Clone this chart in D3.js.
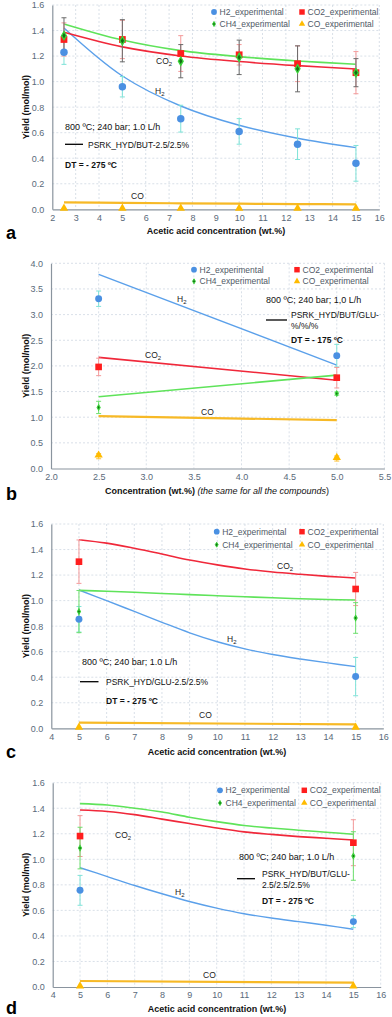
<!DOCTYPE html>
<html><head><meta charset="utf-8">
<script src="https://cdn.jsdelivr.net/npm/d3@7"></script>
<style>
body{margin:0;background:#fff;}
svg{display:block;}
text{font-family:"Liberation Sans",Arial,sans-serif;}
</style></head>
<body>
<svg id="chart" width="392" height="1017"></svg>
<script>
// ---------- Panel a data ----------
const A_x = [2.5, 5, 7.5, 10, 12.5, 15];
const A_H2 = [1.23, 0.96, 0.71, 0.61, 0.51, 0.36];
const A_H2_err = [0.095, 0.08, 0.105, 0.10, 0.12, 0.14];
const A_CO2 = [1.33, 1.33, 1.22, 1.21, 1.14, 1.07];
const A_CO2_err = [0.13, 0.15, 0.14, 0.08, 0.14, 0.165];
const A_CH4 = [1.36, 1.32, 1.16, 1.19, 1.10, 1.07];
const A_CH4_err = [0.14, 0.165, 0.13, 0.135, 0.18, 0.11];
const A_CO = [0, 0, 0, 0, 0, 0];
const A_CO_err = [0, 0, 0, 0, 0, 0];
const A_modelX = [2.5, 5, 7.5, 10, 12.5, 15];
const A_H2_model = [1.42, 1.044, 0.809, 0.658, 0.556, 0.483];
const A_CO2_model = [1.386, 1.272, 1.201, 1.157, 1.125, 1.099];
const A_CH4_model = [1.452, 1.326, 1.243, 1.196, 1.162, 1.136];
const A_CO_model = [0.055, 0.05, 0.047, 0.044, 0.041, 0.039];
const A_xTicks = [2,3,4,5,6,7,8,9,10,11,12,13,14,15,16];
const A_yTicks = [0,0.2,0.4,0.6,0.8,1.0,1.2,1.4,1.6];

// ---------- Panel b data ----------
const B_x = [2.5, 5.0];
const B_H2 = [3.31, 2.20];
const B_H2_err = [0.15, 0.22];
const B_CO2 = [1.98, 1.77];
const B_CO2_err = [0.17, 0.20];
const B_CH4 = [1.19, 1.46];
const B_CH4_err = [0.12, 0.03];
const B_CO = [0.24, 0.195];
const B_CO_err = [0.05, 0.05];
const B_modelX = [2.5, 5.0];
const B_H2_model = [3.785, 2.016];
const B_CO2_model = [2.166, 1.72];
const B_CH4_model = [1.40, 1.82];
const B_CO_model = [1.02, 0.943];
const B_xTicks = [2.0,2.5,3.0,3.5,4.0,4.5,5.0,5.5];
const B_yTicks = [0,0.5,1.0,1.5,2.0,2.5,3.0,3.5,4.0];

// ---------- Panel c data ----------
const C_x = [5, 15];
const C_H2 = [0.854, 0.405];
const C_H2_err = [0.10, 0.15];
const C_CO2 = [1.305, 1.091];
const C_CO2_err = [0.17, 0.13];
const C_CH4 = [0.914, 0.864];
const C_CH4_err = [0.165, 0.12];
const C_CO = [0, 0];
const C_CO_err = [0, 0];
const C_modelX = [5, 6, 7, 8, 9, 10, 11, 12, 13, 14, 15];
const C_H2_model = [1.083, 1.0, 0.915, 0.83, 0.748, 0.678, 0.622, 0.578, 0.543, 0.512, 0.483];
const C_CO2_model = [1.477, 1.45, 1.41, 1.365, 1.318, 1.28, 1.248, 1.224, 1.206, 1.19, 1.177];
const C_CH4_model = [1.08, 1.073, 1.065, 1.056, 1.047, 1.038, 1.03, 1.022, 1.015, 1.009, 1.005];
const C_COmodelX = [5, 15];
const C_CO_model = [0.044, 0.031];
const C_xTicks = [4,5,6,7,8,9,10,11,12,13,14,15,16];
const C_yTicks = [0,0.2,0.4,0.6,0.8,1.0,1.2,1.4,1.6];

// ---------- Panel d data ----------
const D_x = [5, 15];
const D_H2 = [0.757, 0.512];
const D_H2_err = [0.117, 0.047];
const D_CO2 = [1.182, 1.13];
const D_CO2_err = [0.16, 0.18];
const D_CH4 = [1.088, 1.026];
const D_CH4_err = [0.163, 0.19];
const D_CO = [0, 0];
const D_CO_err = [0, 0];
const D_modelX = [5, 6, 7, 8, 9, 10, 11, 12, 13, 14, 15];
const D_H2_model = [0.934, 0.865, 0.795, 0.73, 0.67, 0.618, 0.574, 0.54, 0.512, 0.484, 0.452];
const D_CO2_model = [1.386, 1.375, 1.35, 1.315, 1.28, 1.245, 1.215, 1.195, 1.178, 1.165, 1.151];
const D_CH4_model = [1.436, 1.425, 1.40, 1.37, 1.33, 1.295, 1.265, 1.245, 1.228, 1.212, 1.196];
const D_COmodelX = [5, 15];
const D_CO_model = [0.047, 0.034];
const D_xTicks = [4,5,6,7,8,9,10,11,12,13,14,15,16];
const D_yTicks = [0,0.2,0.4,0.6,0.8,1.0,1.2,1.4,1.6];

const legendNames = ["H2_experimental", "CO2_experimental", "CH4_experimental", "CO_experimental"];

// ---------- styles ----------
const COL = {
  h2: "#4a90e2", h2line: "#5ba0ea", h2err: "#7fe3d8",
  co2: "#ff1e1e", co2line: "#f0283a", co2err: "#f49a9a",
  ch4fill: "#136e13", ch4stroke: "#3ad43a", ch4line: "#5fe35a",
  co: "#ffbb00", coline: "#f7b926", coerr: "#ffc233",
  tick: "#5a6a7a", grid: "#cfd8e2", axis: "#8a949e"
};
const LEG_FONT = "Lato, 'Open Sans', sans-serif";

const svg = d3.select("#chart");

function drawPanel(cfg) {
  const g = svg.append("g");
  const x = d3.scaleLinear().domain(cfg.xDomain).range([cfg.left, cfg.right]);
  const y = d3.scaleLinear().domain(cfg.yDomain).range([cfg.bottom, cfg.top]);

  // grid
  g.append("g").selectAll("line").data(cfg.xTicks.slice(1)).join("line")
    .attr("x1", d => x(d)).attr("x2", d => x(d)).attr("y1", cfg.top).attr("y2", cfg.bottom)
    .attr("stroke", COL.grid).attr("stroke-width", 0.8).attr("stroke-dasharray", "2,2");
  g.append("g").selectAll("line").data(cfg.yTicks.slice(1)).join("line")
    .attr("x1", cfg.left).attr("x2", cfg.right).attr("y1", d => y(d)).attr("y2", d => y(d))
    .attr("stroke", COL.grid).attr("stroke-width", 0.8).attr("stroke-dasharray", "2,2");

  // axes
  const xAxis = d3.axisBottom(x).tickValues(cfg.xTicks).tickSize(0).tickPadding(5).tickFormat(cfg.xFmt);
  const yAxis = d3.axisLeft(y).tickValues(cfg.yTicks).tickSize(0).tickPadding(8).tickFormat(d3.format(".1f"));
  const gx = g.append("g").attr("transform", `translate(0,${cfg.bottom})`).call(xAxis);
  const gy = g.append("g").attr("transform", `translate(${cfg.left},0)`).call(yAxis);
  [gx, gy].forEach(a => {
    a.select(".domain").attr("stroke", COL.axis).attr("stroke-width", 1.2);
    a.selectAll("text").attr("fill", COL.tick).attr("font-size", 9).attr("font-family", "'Liberation Sans', Arial, sans-serif");
  });

  // x title
  const xt = g.append("text").attr("x", cfg.xTitleX).attr("y", cfg.xTitleY).attr("text-anchor", "middle")
    .attr("font-size", 9).attr("font-weight", "bold").attr("fill", "#111");
  xt.append("tspan").text(cfg.xTitle);
  if (cfg.xTitleItalic) xt.append("tspan").attr("font-weight", "normal").attr("font-style", "italic").text(cfg.xTitleItalic);
  if (cfg.xTitleTail) xt.append("tspan").attr("font-weight", "normal").text(cfg.xTitleTail);

  // y title
  g.append("text").attr("transform", `translate(${cfg.yTitleX},${(cfg.top + cfg.bottom) / 2}) rotate(-90)`)
    .attr("text-anchor", "middle").attr("font-size", 9).attr("font-weight", "bold").attr("fill", "#111")
    .text("Yield (mol/mol)");

  // panel letter
  g.append("text").attr("x", 6).attr("y", cfg.letterY).attr("font-family", "'Liberation Serif', 'DejaVu Serif', serif")
    .attr("font-weight", "bold").attr("font-size", 18).text(cfg.letter);

  // model lines
  const line = d3.line().x(d => x(d[0])).y(d => y(d[1])).curve(cfg.curve || d3.curveCatmullRom.alpha(0.5));
  const models = [
    [cfg.modelX, cfg.CO_model, COL.coline, 2.2, cfg.COmodelX],
    [cfg.modelX, cfg.H2_model, COL.h2line, 1.4],
    [cfg.modelX, cfg.CO2_model, COL.co2line, 1.6],
    [cfg.modelX, cfg.CH4_model, COL.ch4line, 1.6]
  ];
  models.forEach(([mx, my, c, w, alt]) => {
    const xs = alt || mx;
    g.append("path").datum(xs.map((v, i) => [v, my[i]])).attr("d", line)
      .attr("fill", "none").attr("stroke", c).attr("stroke-width", w);
  });

  // error bars
  function errBars(vals, errs, color) {
    const eg = g.append("g");
    cfg.x.forEach((xv, i) => {
      if (!errs[i]) return;
      const cx = x(xv), y1 = y(vals[i] - errs[i]), y2 = y(vals[i] + errs[i]);
      eg.append("line").attr("x1", cx).attr("x2", cx).attr("y1", y1).attr("y2", y2).attr("stroke", color).attr("stroke-width", 1);
      [y1, y2].forEach(yy => eg.append("line").attr("x1", cx - 2.5).attr("x2", cx + 2.5).attr("y1", yy).attr("y2", yy).attr("stroke", color).attr("stroke-width", 1));
    });
  }
  errBars(cfg.H2, cfg.H2_err, COL.h2err);
  errBars(cfg.CO2, cfg.CO2_err, COL.co2err);
  errBars(cfg.CH4, cfg.CH4_err, cfg.ch4ErrCol);
  errBars(cfg.CO, cfg.CO_err, COL.coerr);

  // points
  const sym = (type, size) => d3.symbol().type(type).size(size)();
  g.append("g").selectAll("path").data(cfg.x).join("path")
    .attr("transform", (d, i) => `translate(${x(d)},${y(cfg.H2[i])})`)
    .attr("d", sym(d3.symbolCircle, cfg.big ? 44 : 38)).attr("fill", COL.h2);
  g.append("g").selectAll("path").data(cfg.x).join("path")
    .attr("transform", (d, i) => `translate(${x(d)},${y(cfg.CO2[i])})`)
    .attr("d", sym(d3.symbolSquare, cfg.big ? 46 : 44)).attr("fill", COL.co2);
  g.append("g").selectAll("path").data(cfg.x).join("path")
    .attr("transform", (d, i) => `translate(${x(d)},${y(cfg.CH4[i])})`)
    .attr("d", sym(d3.symbolDiamond, cfg.big ? 20 : 8)).attr("fill", COL.ch4fill)
    .attr("stroke", COL.ch4stroke).attr("stroke-width", cfg.big ? 1.3 : 1.1);
  g.append("g").selectAll("path").data(cfg.x).join("path")
    .attr("transform", (d, i) => `translate(${x(d)},${y(cfg.CO[i]) - 1})`)
    .attr("d", sym(d3.symbolTriangle, 30)).attr("fill", COL.co);

  // legend
  const L = cfg.legend;
  const lg = g.append("g").attr("font-family", LEG_FONT).attr("font-size", 8.5).attr("fill", "#4f5966");
  const items = [
    [L.x1, L.y1, d3.symbolCircle, 26, COL.h2, null],
    [L.x2, L.y1, d3.symbolSquare, 30, COL.co2, null],
    [L.x1, L.y2, d3.symbolDiamond, 7, COL.ch4fill, COL.ch4stroke],
    [L.x2, L.y2, d3.symbolTriangle, 18, COL.co, null]
  ];
  items.forEach(([lx, ly, t, s, f, st], i) => {
    const p = lg.append("path").attr("transform", `translate(${lx},${ly})`).attr("d", sym(t, s)).attr("fill", f);
    if (st) p.attr("stroke", st).attr("stroke-width", 1);
    lg.append("text").attr("x", lx + 5.5).attr("y", ly + 3).text(legendNames[i]);
  });

  // annotations
  const A = cfg.ann;
  g.append("text").attr("x", A.condX).attr("y", A.condY).attr("font-size", 9).attr("fill", "#111").text(A.cond);
  g.append("line").attr("x1", A.lineX1).attr("x2", A.lineX2).attr("y1", A.lineY).attr("y2", A.lineY)
    .attr("stroke", "#000").attr("stroke-width", 1.3);
  A.model.forEach((t, i) => g.append("text").attr("x", A.modelX).attr("y", A.modelY + i * 11)
    .attr("font-family", LEG_FONT).attr("font-size", 8.5).attr("fill", "#111").text(t));
  g.append("text").attr("x", A.dtX).attr("y", A.dtY).attr("font-family", LEG_FONT).attr("font-weight", "bold")
    .attr("font-size", 8.5).attr("fill", "#111").text(A.dt);

  // species labels
  cfg.labels.forEach(([txt, sub, lx, ly]) => {
    const t = g.append("text").attr("x", lx).attr("y", ly).attr("font-family", LEG_FONT)
      .attr("font-size", 8.5).attr("fill", "#222");
    t.append("tspan").text(txt);
    if (sub) t.append("tspan").attr("dy", 2).attr("font-size", 6).text(sub);
  });
}

drawPanel({
  letter: "a", letterY: 239, big: true,
  left: 52.3, right: 379.3, top: 5, bottom: 209.3,
  xDomain: [2, 16], yDomain: [0, 1.6], xTicks: A_xTicks, yTicks: A_yTicks, xFmt: d3.format("d"),
  xTitle: "Acetic acid concentration (wt.%)", xTitleX: 216, xTitleY: 234, yTitleX: 29,
  x: A_x, H2: A_H2, H2_err: A_H2_err, CO2: A_CO2, CO2_err: A_CO2_err, CH4: A_CH4, CH4_err: A_CH4_err,
  CO: A_CO, CO_err: A_CO_err, ch4ErrCol: "#6a6a6a",
  modelX: A_modelX, H2_model: A_H2_model, CO2_model: A_CO2_model, CH4_model: A_CH4_model, CO_model: A_CO_model,
  legend: {x1: 214, x2: 302, y1: 12, y2: 24},
  ann: {cond: "800 ºC; 240 bar; 1.0 L/h", condX: 65, condY: 129.5, lineX1: 65, lineX2: 83, lineY: 144.3,
        model: ["PSRK_HYD/BUT-2.5/2.5%"], modelX: 88, modelY: 147.5, dt: "DT = - 275 ºC", dtX: 65, dtY: 167.5},
  labels: [["CO", "2", 156, 64], ["H", "2", 155, 93.5], ["CO", null, 131, 199]]
});

drawPanel({
  letter: "b", letterY: 500, big: false, curve: d3.curveLinear,
  left: 51, right: 384.4, top: 263.3, bottom: 468.5,
  xDomain: [2.0, 5.5], yDomain: [0, 4.0], xTicks: B_xTicks, yTicks: B_yTicks, xFmt: d3.format(".1f"),
  xTitle: "Concentration (wt.%) ", xTitleItalic: "(the same for all the compounds", xTitleTail: ")",
  xTitleX: 217, xTitleY: 494, yTitleX: 29,
  x: B_x, H2: B_H2, H2_err: B_H2_err, CO2: B_CO2, CO2_err: B_CO2_err, CH4: B_CH4, CH4_err: B_CH4_err,
  CO: B_CO, CO_err: B_CO_err, ch4ErrCol: "#6ee06e",
  modelX: B_modelX, H2_model: B_H2_model, CO2_model: B_CO2_model, CH4_model: B_CH4_model, CO_model: B_CO_model,
  legend: {x1: 194, x2: 297, y1: 269.7, y2: 281.3},
  ann: {cond: "800 ºC; 240 bar; 1,0 L/h", condX: 266, condY: 303, lineX1: 266, lineX2: 287, lineY: 320,
        model: ["PSRK_HYD/BUT/GLU-", "%/%/%"], modelX: 291, modelY: 318, dt: "DT = - 175 ºC", dtX: 291, dtY: 343},
  labels: [["H", "2", 177, 302], ["CO", "2", 145, 358], ["CO", null, 201, 415]]
});

drawPanel({
  letter: "c", letterY: 758, big: false,
  left: 51.3, right: 383.3, top: 524, bottom: 728.3,
  xDomain: [4, 16], yDomain: [0, 1.6], xTicks: C_xTicks, yTicks: C_yTicks, xFmt: d3.format("d"),
  xTitle: "Acetic acid concentration (wt.%)", xTitleX: 217, xTitleY: 755, yTitleX: 29,
  x: C_x, H2: C_H2, H2_err: C_H2_err, CO2: C_CO2, CO2_err: C_CO2_err, CH4: C_CH4, CH4_err: C_CH4_err,
  CO: C_CO, CO_err: C_CO_err, ch4ErrCol: "#6ee06e",
  modelX: C_modelX, H2_model: C_H2_model, CO2_model: C_CO2_model, CH4_model: C_CH4_model,
  COmodelX: C_COmodelX, CO_model: C_CO_model,
  legend: {x1: 216.7, x2: 302, y1: 531.7, y2: 544.7},
  ann: {cond: "800 ºC; 240 bar; 1.0 L/h", condX: 82, condY: 665, lineX1: 80, lineX2: 98.5, lineY: 681.7,
        model: ["PSRK_HYD/GLU-2.5/2.5%"], modelX: 106, modelY: 684.7, dt: "DT = - 275 ºC", dtX: 106, dtY: 704},
  labels: [["CO", "2", 277, 569], ["H", "2", 227, 642], ["CO", null, 199, 717.5]]
});

drawPanel({
  letter: "d", letterY: 1014, big: false,
  left: 52.7, right: 380.7, top: 782.7, bottom: 987,
  xDomain: [4, 16], yDomain: [0, 1.6], xTicks: D_xTicks, yTicks: D_yTicks, xFmt: d3.format("d"),
  xTitle: "Acetic acid concentration (wt.%)", xTitleX: 217, xTitleY: 1012, yTitleX: 29,
  x: D_x, H2: D_H2, H2_err: D_H2_err, CO2: D_CO2, CO2_err: D_CO2_err, CH4: D_CH4, CH4_err: D_CH4_err,
  CO: D_CO, CO_err: D_CO_err, ch4ErrCol: "#6ee06e",
  modelX: D_modelX, H2_model: D_H2_model, CO2_model: D_CO2_model, CH4_model: D_CH4_model,
  COmodelX: D_COmodelX, CO_model: D_CO_model,
  legend: {x1: 220, x2: 304.3, y1: 790.3, y2: 803},
  ann: {cond: "800 ºC; 240 bar; 1.0 L/h", condX: 239, condY: 859.5, lineX1: 237, lineX2: 255, lineY: 878.7,
        model: ["PSRK_HYD/BUT/GLU-", "2.5/2.5/2.5%"], modelX: 262, modelY: 877, dt: "DT = - 275 ºC", dtX: 262, dtY: 904},
  labels: [["CO", "2", 115, 838], ["H", "2", 175, 895], ["CO", null, 203, 978]]
});
</script>
</body></html>
